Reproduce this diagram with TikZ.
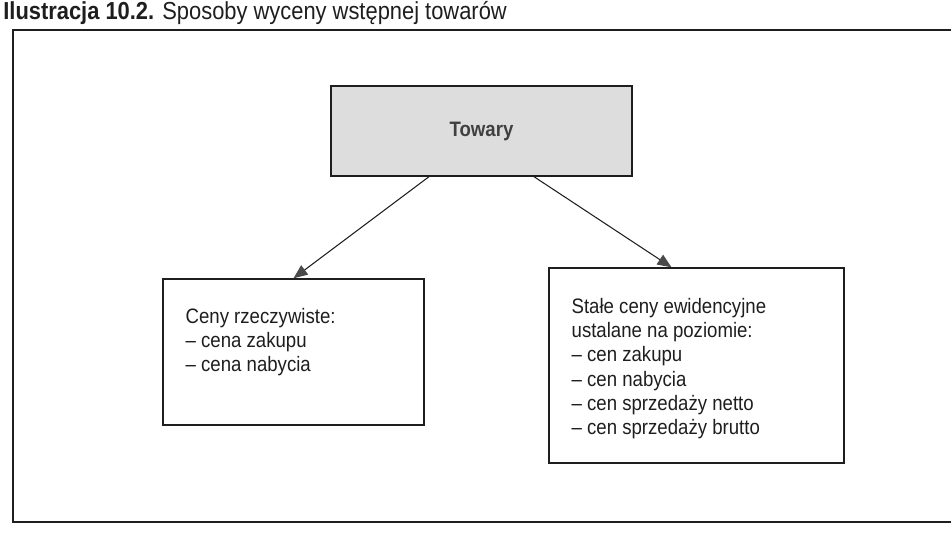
\documentclass[tikz,border=0pt]{standalone}
\usepackage{fontspec}
\setmainfont[FakeStretch=0.89]{Liberation Sans}
\usetikzlibrary{arrows.meta,positioning}
\definecolor{ink}{HTML}{1E1E1E}
\definecolor{shade}{HTML}{DDDDDD}
\definecolor{tipgrey}{HTML}{4A4A4A}
\tikzset{box/.style={draw=ink,line width=0.8pt,inner sep=0pt},greybox/.style={box,fill=shade,minimum width=6.02cm,minimum height=1.8cm,font=\fontsize{11.9}{13.7}\selectfont\bfseries,text=ink!85},txt/.style={inner sep=0pt,align=left,anchor=north west,font=\fontsize{11.9}{13.7}\selectfont,text=ink},arr/.style={-{Triangle[length=2.8mm,width=2.3mm,color=tipgrey]},line width=0.6pt,draw=ink}}

\begin{document}
\begin{tikzpicture}
\useasboundingbox (0,0) rectangle (19.02,10.76);
\draw[ink,line width=0.85pt] (19.4,10.16)--(0.26,10.16)--(0.26,0.32)--(19.4,0.32);
\node[anchor=base west,inner sep=0pt,font=\fontsize{14}{16}\selectfont,text=ink] (title) at (0.06,10.36) {\textbf{Ilustracja 10.2.} Sposoby wyceny wstępnej towarów};
\node[greybox] (tow) at (9.63,8.14) {Towary};
\node[box,minimum width=5.22cm,minimum height=2.92cm] (rzecz) at (5.87,3.72) {};
\node[box,minimum width=5.90cm,minimum height=3.90cm] (ewid) at (13.93,3.45) {};
\node[txt,below right=0.6cm and 0.46cm of rzecz.north west] (rzecztxt) {Ceny rzeczywiste:\\-- cena zakupu\\-- cena nabycia};
\node[txt,below right=0.62cm and 0.46cm of ewid.north west] (ewidtxt) {Stałe ceny ewidencyjne\\ustalane na poziomie:\\-- cen zakupu\\-- cen nabycia\\-- cen sprzedaży netto\\-- cen sprzedaży brutto};
\draw[arr] ([xshift=-1.05cm]tow.south) -- (rzecz.north);
\draw[arr] ([xshift=1.05cm]tow.south) -- ([xshift=-0.5cm]ewid.north);
\end{tikzpicture}
\end{document}
